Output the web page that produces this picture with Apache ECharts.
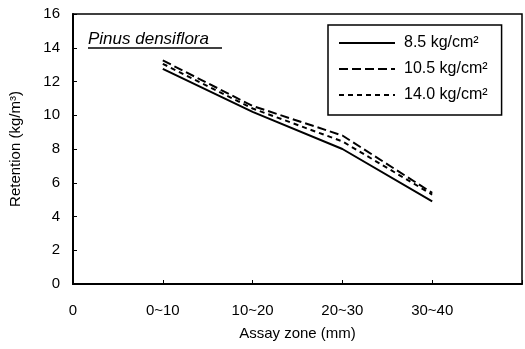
<!DOCTYPE html>
<html><head><meta charset="utf-8">
<script src="https://cdn.jsdelivr.net/npm/echarts@6/dist/echarts.min.js"></script>
<style>html,body{margin:0;padding:0;background:#fff}#c{width:525px;height:349px}</style>
</head><body><div id="c"></div>
<script>
const categories = ["0", "0~10", "10~20", "20~30", "30~40"];
const zoneIndex = [1, 2, 3, 4];
const s85 = [12.75, 10.2, 8.0, 4.9];
const s105 = [13.25, 10.55, 8.8, 5.4];
const s140 = [13.05, 10.4, 8.45, 5.3];
const seriesNames = ["8.5 kg/cm²", "10.5 kg/cm²", "14.0 kg/cm²"];
const yTicks = [0, 2, 4, 6, 8, 10, 12, 14, 16];

const font = "'Liberation Sans', Arial, sans-serif";
function pts(v){ return zoneIndex.map((x,i)=>[x, v[i]]); }
const chart = echarts.init(document.getElementById('c'));
chart.setOption({
  animation:false,
  grid:{left:73, top:14, width:456, bottom:65, show:true, borderColor:'#000', borderWidth:1.5},
  xAxis:{type:'value', min:0, max:5, interval:1,
    axisLine:{lineStyle:{color:'#000', width:2}},
    axisTick:{inside:true, length:4, lineStyle:{color:'#000'}},
    splitLine:{show:false},
    axisLabel:{color:'#000', fontSize:15, fontFamily:font, margin:19,
      formatter:v=> categories[v] !== undefined ? categories[v] : ''},
    name:'Assay zone (mm)', nameLocation:'middle', nameGap:42,
    nameTextStyle:{color:'#000', fontSize:15, fontFamily:font}
  },
  yAxis:{type:'value', min:0, max:16, interval:2,
    axisLine:{lineStyle:{color:'#000', width:2}},
    axisTick:{inside:true, length:4, lineStyle:{color:'#000'}},
    splitLine:{show:false},
    axisLabel:{color:'#000', fontSize:15, fontFamily:font, margin:13,
      formatter:v=> yTicks.includes(v) ? String(v) : ''},
    name:'Retention (kg/m³)', nameLocation:'middle', nameGap:50,
    nameTextStyle:{color:'#000', fontSize:15, fontFamily:font}
  },
  legend:{orient:'vertical', left:328, top:25, itemWidth:56, itemHeight:12, itemGap:10,
    padding:[10,14,12,10], borderColor:'#000', borderWidth:1.5,
    itemStyle:{opacity:0},
    textStyle:{color:'#000', fontSize:16, fontFamily:font, padding:[0,0,0,4]},
    data:seriesNames},
  graphic:[
    {type:'text', left:88, top:31, style:{text:'Pinus densiflora', fill:'#000',
      font:'italic 17px '+font}},
    {type:'line', shape:{x1:88, y1:48, x2:222, y2:48}, style:{stroke:'#000', lineWidth:1.5}}
  ],
  series:[
    {name:seriesNames[0], type:'line', data:pts(s85), symbol:'none',
      lineStyle:{color:'#000', width:2, type:'solid'}, itemStyle:{color:'#000'}},
    {name:seriesNames[1], type:'line', data:pts(s105), symbol:'none',
      lineStyle:{color:'#000', width:2, type:[9,4]}, itemStyle:{color:'#000'}},
    {name:seriesNames[2], type:'line', data:pts(s140), symbol:'none',
      lineStyle:{color:'#000', width:2, type:[5,4]}, itemStyle:{color:'#000'}}
  ]
});
</script></body></html>
